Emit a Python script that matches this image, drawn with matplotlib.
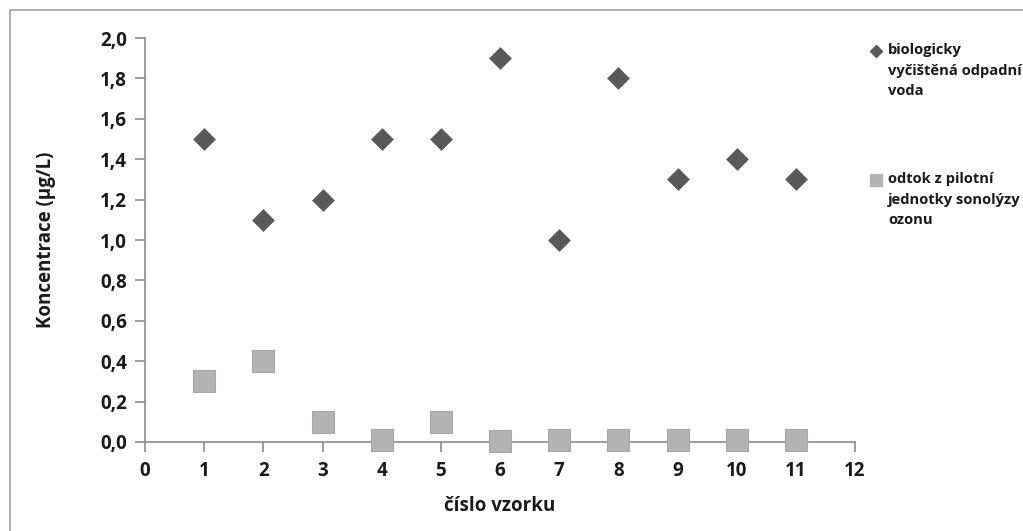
import matplotlib
matplotlib.use("Agg")
import matplotlib.pyplot as plt
from matplotlib.patches import Rectangle
from matplotlib.lines import Line2D

plt.rcParams['font.family'] = ['Open Sans', 'DejaVu Sans']
plt.rcParams['font.weight'] = 'bold'

samples = [1, 2, 3, 4, 5, 6, 7, 8, 9, 10, 11]
bio_water = [1.5, 1.1, 1.2, 1.5, 1.5, 1.9, 1.0, 1.8, 1.3, 1.4, 1.3]
pilot_outflow = [0.3, 0.4, 0.1, 0.01, 0.1, 0.005, 0.01, 0.01, 0.01, 0.01, 0.01]
series_labels = ["biologicky\nvyčištěná odpadní\nvoda",
                 "odtok z pilotní\njednotky sonolýzy\nozonu"]
x_ticks = list(range(0, 13))
y_ticks = [0.0, 0.2, 0.4, 0.6, 0.8, 1.0, 1.2, 1.4, 1.6, 1.8, 2.0]

W, H = 1023, 531
fig = plt.figure(figsize=(W / 100, H / 100), dpi=100)
ax = fig.add_axes([145 / W, 1 - 442 / H, 710 / W, 404 / H])

axis_col = '#8c8c8c'
dia_col = '#595959'
sq_col = '#b3b3b3'
txt_col = '#1a1a1a'

ax.scatter(samples, bio_water, marker='D', s=135, color=dia_col, linewidths=0, zorder=3, clip_on=False)
ax.scatter(samples, pilot_outflow, marker='s', s=260, color=sq_col, edgecolors='#a6a6a6',
           linewidths=0.8, zorder=3, clip_on=False)

ax.set_xlim(0, 12)
ax.set_ylim(0, 2.0)
ax.set_xticks(x_ticks)
ax.set_yticks(y_ticks)
ax.set_yticklabels([f"{v:.1f}".replace('.', ',') for v in y_ticks])
ax.set_xticklabels([str(v) for v in x_ticks])
for s in ['top', 'right']:
    ax.spines[s].set_visible(False)
for s in ['left', 'bottom']:
    ax.spines[s].set_color(axis_col)
    ax.spines[s].set_linewidth(1.2)
ax.tick_params(axis='both', direction='out', length=7, width=1.2, color=axis_col,
               labelsize=13.5, labelcolor=txt_col)
ax.tick_params(axis='y', pad=6)
ax.tick_params(axis='x', pad=7)
for lab in ax.get_xticklabels() + ax.get_yticklabels():
    lab.set_fontweight('bold')

ax.set_xlabel("číslo vzorku", fontsize=13.5, fontweight='bold', color=txt_col, va='center')
ax.set_ylabel("Koncentrace (µg/L)", fontsize=13.5, fontweight='bold', color=txt_col, va='center')
ax.xaxis.set_label_coords(0.5, (442 - 506) / 404)
ax.yaxis.set_label_coords((46 - 145) / 710, 0.5)

# legend drawn manually at the right side
fig.add_artist(Line2D([876 / W], [1 - 51 / H], marker='D', markersize=6, color=dia_col,
                      linestyle='none', transform=fig.transFigure))
fig.text(888 / W, 1 - 43 / H, series_labels[0], fontsize=10.6, fontweight='bold',
         color=txt_col, va='top', ha='left', linespacing=1.6, transform=fig.transFigure)
fig.add_artist(Line2D([876 / W], [1 - 180 / H], marker='s', markersize=8, color=sq_col,
                      linestyle='none', transform=fig.transFigure))
fig.text(888 / W, 1 - 172 / H, series_labels[1], fontsize=10.6, fontweight='bold',
         color=txt_col, va='top', ha='left', linespacing=1.6, transform=fig.transFigure)

# outer chart frame
fig.add_artist(Rectangle((10 / W, -0.1), 1.2, 1 - 10 / H + 0.1, transform=fig.transFigure,
                         fill=False, edgecolor='#a0a0a0', linewidth=1.2))

fig.savefig("out.png", dpi=100)
